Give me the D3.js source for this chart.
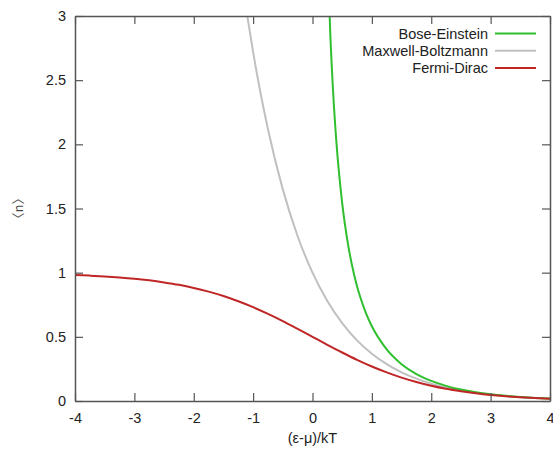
<!DOCTYPE html>
<html>
<head>
<meta charset="utf-8">
<script src="https://cdn.jsdelivr.net/npm/d3@7"></script>
<style>
  body { margin: 0; background: #fff; }
  text { font-family: "Liberation Sans", Arial, sans-serif; font-size: 14.5px; fill: #222; }
</style>
</head>
<body>
<div id="app"></div>
<script>
// x ticks / y ticks as printed on the axes
const xTicks = [-4, -3, -2, -1, 0, 1, 2, 3, 4];
const yTicks = [0, 0.5, 1, 1.5, 2, 2.5, 3];

// Fermi-Dirac occupation
const fdX = [-4, -3.75, -3.5, -3.25, -3, -2.75, -2.5, -2.25, -2, -1.75, -1.5, -1.25, -1, -0.75, -0.5, -0.25,
             0, 0.25, 0.5, 0.75, 1, 1.25, 1.5, 1.75, 2, 2.25, 2.5, 2.75, 3, 3.25, 3.5, 3.75, 4];
const fdY = [0.982, 0.977, 0.971, 0.963, 0.953, 0.940, 0.924, 0.905, 0.881, 0.852, 0.818, 0.777, 0.731, 0.679, 0.623, 0.562,
             0.500, 0.438, 0.378, 0.321, 0.269, 0.223, 0.182, 0.148, 0.119, 0.095, 0.076, 0.060, 0.047, 0.037, 0.029, 0.023, 0.018];

// Maxwell-Boltzmann, grey curve (leaves the top near -1.1)
const mbX = [-1.25, -1.1, -1, -0.9, -0.75, -0.5, -0.25, 0, 0.25, 0.5, 0.75, 1, 1.25, 1.5, 1.75,
             2, 2.25, 2.5, 2.75, 3, 3.25, 3.5, 3.75, 4];
const mbY = [3.490, 3.004, 2.718, 2.460, 2.117, 1.649, 1.284, 1.000, 0.779, 0.607, 0.472, 0.368, 0.287, 0.223, 0.174,
             0.135, 0.105, 0.082, 0.064, 0.050, 0.039, 0.030, 0.024, 0.018];

// Bose-Einstein, green curve (leaves the top near 0.29)
const beX = [0.25, 0.3, 0.35, 0.4, 0.5, 0.6, 0.7, 0.75, 0.8, 0.9, 1, 1.25, 1.5, 1.75,
             2, 2.25, 2.5, 2.75, 3, 3.25, 3.5, 3.75, 4];
const beY = [3.521, 2.858, 2.386, 2.033, 1.542, 1.216, 0.986, 0.895, 0.816, 0.685, 0.582, 0.402, 0.287, 0.210,
             0.157, 0.118, 0.089, 0.068, 0.052, 0.040, 0.031, 0.024, 0.019];

const width = 553
    , height = 454
    , margin = { top: 16, right: 3, bottom: 53, left: 75 }
    , tickLen = 8;

const series = [
  { name: "Bose-Einstein", color: "#2fbf2f", xs: beX, ys: beY },
  { name: "Maxwell-Boltzmann", color: "#c0c0c0", xs: mbX, ys: mbY },
  { name: "Fermi-Dirac", color: "#c02626", xs: fdX, ys: fdY }
];

const svg = d3.select("#app").append("svg")
    .attr("width", width)
    .attr("height", height);

const x = d3.scaleLinear().domain([-4, 4]).range([margin.left, width - margin.right]);
const y = d3.scaleLinear().domain([0, 3]).range([height - margin.bottom, margin.top]);

svg.append("clipPath").attr("id", "clip")
  .append("rect")
    .attr("x", x(-4)).attr("y", y(3))
    .attr("width", x(4) - x(-4)).attr("height", y(0) - y(3));

// curves, drawn maxwell first so green/red sit on top like the original
const line = d3.line().curve(d3.curveMonotoneX);
const drawOrder = [series[1], series[0], series[2]];
svg.append("g")
    .attr("clip-path", "url(#clip)")
  .selectAll("path")
    .data(drawOrder)
  .enter().append("path")
    .attr("fill", "none")
    .attr("stroke", d => d.color)
    .attr("stroke-width", 2)
    .attr("d", d => line(d.xs.map((v, i) => [x(v), y(d.ys[i])])));

// axes, gnuplot style: ticks inward and mirrored, plain hyphen minus
const axisColor = "#555";
const fmt = d => String(d);
const axB = d3.axisBottom(x).tickValues(xTicks).tickFormat(fmt).tickSizeInner(-tickLen).tickSizeOuter(0);
const axT = d3.axisTop(x).tickValues(xTicks).tickSizeInner(-tickLen).tickSizeOuter(0).tickFormat("");
const axL = d3.axisLeft(y).tickValues(yTicks).tickFormat(fmt).tickSizeInner(-tickLen).tickSizeOuter(0);
const axR = d3.axisRight(y).tickValues(yTicks).tickSizeInner(-tickLen).tickSizeOuter(0).tickFormat("");

const gb = svg.append("g").attr("transform", `translate(0,${y(0)})`).call(axB);
const gt = svg.append("g").attr("transform", `translate(0,${y(3)})`).call(axT);
const gl = svg.append("g").attr("transform", `translate(${x(-4)},0)`).call(axL);
const gr = svg.append("g").attr("transform", `translate(${x(4)},0)`).call(axR);

[gb, gt, gl, gr].forEach(g => {
  g.selectAll(".domain").attr("stroke", axisColor).attr("stroke-width", 1.5);
  g.selectAll(".tick line").attr("stroke", axisColor).attr("stroke-width", 1.2);
  g.selectAll(".tick text").attr("font-size", 14.5).attr("fill", "#222")
    .attr("font-family", "'Liberation Sans', Arial, sans-serif");
});
gb.selectAll(".tick text").attr("dy", "0.71em").attr("y", 12);
gl.selectAll(".tick text").attr("x", -9);

// axis labels
svg.append("text")
    .attr("x", (x(-4) + x(4)) / 2)
    .attr("y", 443)
    .attr("text-anchor", "middle")
    .text("(ε-μ)/kT");

svg.append("text")
    .attr("transform", `translate(23,${(y(0) + y(3)) / 2}) rotate(-90)`)
    .attr("text-anchor", "middle")
    .style("font-family", "'Noto Sans CJK SC', 'DejaVu Sans', sans-serif")
    .style("font-size", "13px")
    .style("fill", "#444")
    .text("〈n〉");

// key
const key = svg.append("g")
    .selectAll("g")
    .data(series)
  .enter().append("g")
    .attr("transform", (d, i) => `translate(0,${33.5 + i * 17.2})`);

key.append("text")
    .attr("x", 488)
    .attr("dy", "0.35em")
    .attr("text-anchor", "end")
    .text(d => d.name);

key.append("line")
    .attr("x1", 495).attr("x2", 536)
    .attr("stroke", d => d.color)
    .attr("stroke-width", 2);
</script>
</body>
</html>
